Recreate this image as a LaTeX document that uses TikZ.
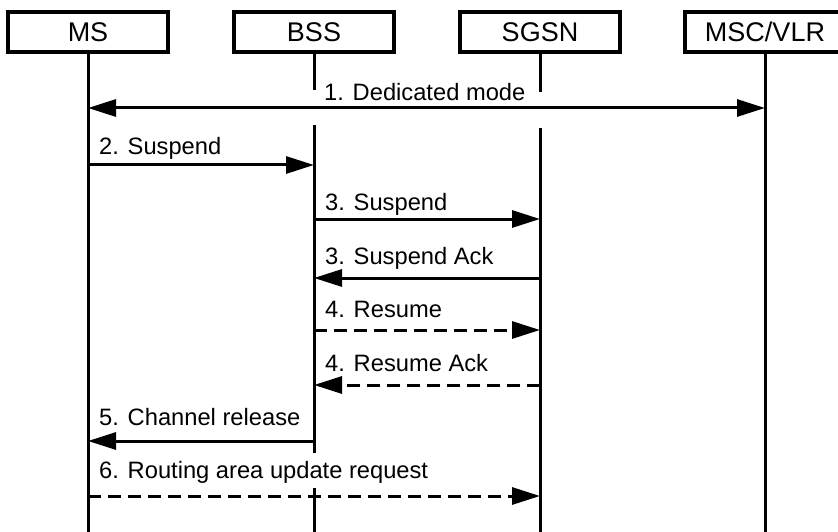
\documentclass[tikz,border=0pt]{standalone}
\usepackage{fontspec}
\setmainfont{Liberation Sans}
\usetikzlibrary{arrows.meta,positioning}
\tikzset{entity/.style={draw, line width=3.3pt, minimum width=160pt, minimum height=40pt, inner sep=0pt, font=\fontsize{27}{30}\selectfont}, life/.style={line width=3pt}, msg/.style={line width=3pt,->}, resp/.style={msg, dash pattern=on 13pt off 7pt}, lbl/.style={anchor=base west, inner sep=0pt, xshift=11pt, font=\fontsize{23.7}{28}\selectfont}}

\begin{document}
\begin{tikzpicture}[x=1pt,y=-1pt,>={Triangle[length=28pt,width=17pt]}]
  \useasboundingbox (0,0) rectangle (838,532);
  \node[entity] (ms) at (88,32) {MS};
  \node[entity] (bss) at (314,32) {BSS};
  \node[entity] (sgsn) at (540,32) {SGSN};
  \node[entity] (msc) at (765,32) {MSC/VLR};
  \draw[life] (ms.south) -- (ms |- 0,532);
  \draw[life] (bss.south) -- (bss |- 0,90) (bss |- 0,125) -- (bss |- 0,453) (bss |- 0,488) -- (bss |- 0,532);
  \draw[life] (sgsn.south) -- (sgsn |- 0,92) (sgsn |- 0,128) -- (sgsn |- 0,532);
  \draw[life] (msc.south) -- (msc |- 0,532);
  \draw[msg,<->] (ms |- 0,108) -- (msc |- 0,108);
  \node[lbl, xshift=-1pt] (l1) at (bss |- 0,101) {1. Dedicated mode};
  \draw[msg] (ms |- 0,165) -- (bss |- 0,165);
  \node[lbl] (l2) at (ms |- 0,155) {2. Suspend};
  \draw[msg] (bss |- 0,219) -- (sgsn |- 0,219);
  \node[lbl] (l3) at (bss |- 0,210) {3. Suspend};
  \draw[msg] (sgsn |- 0,278) -- (bss |- 0,278);
  \node[lbl] (l3a) at (bss |- 0,264) {3. Suspend Ack};
  \draw[resp] (bss |- 0,330) -- (sgsn |- 0,330);
  \node[lbl] (l4) at (bss |- 0,317) {4. Resume};
  \draw[resp] (sgsn |- 0,385) -- (bss |- 0,385);
  \node[lbl] (l4a) at (bss |- 0,371) {4. Resume Ack};
  \draw[msg] (bss |- 0,441) -- (ms |- 0,441);
  \node[lbl] (l5) at (ms |- 0,425) {5. Channel release};
  \draw[resp] (ms |- 0,496) -- (sgsn |- 0,496);
  \node[lbl] (l6) at (ms |- 0,478) {6. Routing area update request};
\end{tikzpicture}
\end{document}
